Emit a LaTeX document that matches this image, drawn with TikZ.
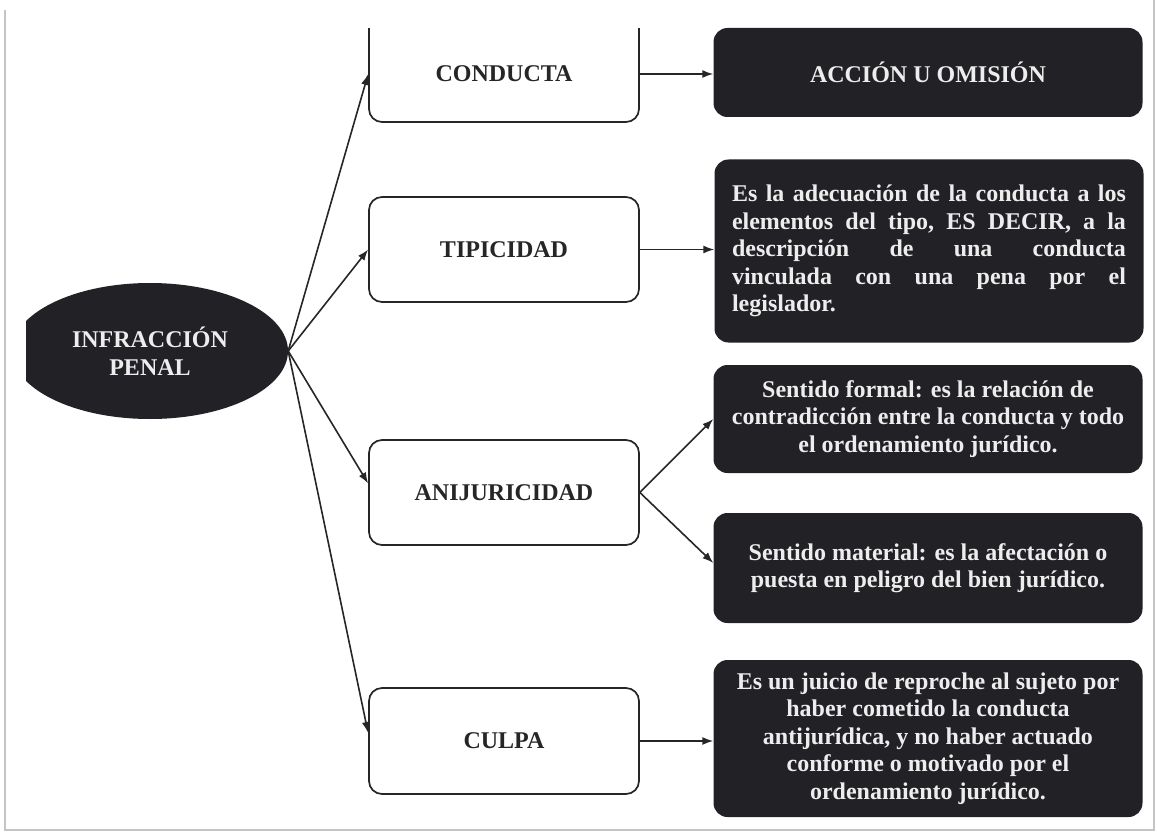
\documentclass[tikz,border=0pt]{standalone}
\usepackage{fontspec}
\setmainfont{Liberation Serif}
\usetikzlibrary{arrows.meta,shapes.geometric}
\definecolor{boxdark}{HTML}{212126}
\definecolor{boxtext}{HTML}{EDEDED}
\definecolor{linedark}{HTML}{262626}
\definecolor{framegray}{HTML}{C4C4C4}
\begin{document}
\begin{tikzpicture}[x=1pt,y=-1pt,
  lbl/.style={font=\fontsize{24}{27.5}\selectfont\bfseries},
  whitebox/.style={draw=linedark, line width=1.7pt, rounded corners=13pt, fill=white, minimum width=270pt, inner sep=0pt},
  darkbox/.style={fill=boxdark, text=boxtext, rounded corners=14pt, minimum width=429pt, inner sep=0pt, font=\fontsize{24}{27.5}\selectfont\bfseries},
  arr/.style={draw=linedark, line width=1.6pt, -{Latex[length=11pt,width=8pt]}}]
\useasboundingbox (0,0) rectangle (1157,832);
% frame
\draw[framegray, line width=1.5pt] (5,10) -- (5,830) -- (1154,830) -- (1154,0);
% central ellipse
\begin{scope}
\clip (26,0) rectangle (1157,832);
\node[ellipse, fill=boxdark, text=boxtext, lbl, minimum width=276pt, minimum height=136pt, inner sep=0pt, align=center] (inf) at (150,351) {INFRACCIÓN\\PENAL};
\end{scope}
% white boxes
\begin{scope}
\clip (0,29) rectangle (1157,832);
\node[whitebox, minimum height=112pt] (cond) at (504,66) {};
\end{scope}
\node[lbl, text=linedark] (condlbl) at (504,74) {CONDUCTA};
\node[whitebox, lbl, text=linedark, minimum height=105pt] (tipb) at (504,249.5) {TIPICIDAD};
\node[whitebox, lbl, text=linedark, minimum height=105pt] (anti) at (504,492.5) {ANIJURICIDAD};
\node[whitebox, lbl, text=linedark, minimum height=106pt] (culpa) at (504,741) {CULPA};
% dark boxes
\node[darkbox, minimum height=89pt] (acc) at (928,72.5) {ACCIÓN U OMISIÓN};
\node[darkbox, minimum height=183pt, text width=394pt, align=left] (tipd) at (929,251) {%
\hbox to 394pt{Es\hfill la\hfill adecuación\hfill de\hfill la\hfill conducta\hfill a\hfill los}
\hbox to 394pt{elementos\hfill del\hfill tipo,\hfill ES\hfill DECIR,\hfill a\hfill la}
\hbox to 394pt{descripción\hfill de\hfill una\hfill conducta}
\hbox to 394pt{vinculada\hfill con\hfill una\hfill pena\hfill por\hfill el}
\hbox to 394pt{legislador.\hfill}};
\node[darkbox, minimum height=108pt, align=center] (form) at (928,419) {Sentido formal: es la relación de\\contradicción entre la conducta y todo\\el ordenamiento jurídico.};
\node[darkbox, minimum height=110pt, align=center] (mat) at (928,568) {Sentido material: es la afectación o\\puesta en peligro del bien jurídico.};
\node[darkbox, minimum height=157pt, align=center] (culd) at (928,738.5) {Es un juicio de reproche al sujeto por\\haber cometido la conducta\\antijurídica, y no haber actuado\\conforme o motivado por el\\ordenamiento jurídico.};
% connectors
\draw[arr] (inf.east) -- (cond.west |- condlbl);
\draw[arr] (inf.east) -- (tipb.west);
\draw[arr] (inf.east) -- ([yshift=9pt]anti.west);
\draw[arr] (inf.east) -- ([yshift=8pt]culpa.west);
\draw[arr] (cond.east |- condlbl) -- (condlbl -| acc.west);
\draw[arr] (tipb.east) -- (tipb.east -| tipd.west);
\draw[arr] (anti.east) -- (form.west);
\draw[arr] (anti.east) -- ([yshift=5pt]mat.west);
\draw[arr] (culpa.east) -- (culpa.east -| culd.west);
\end{tikzpicture}
\end{document}
